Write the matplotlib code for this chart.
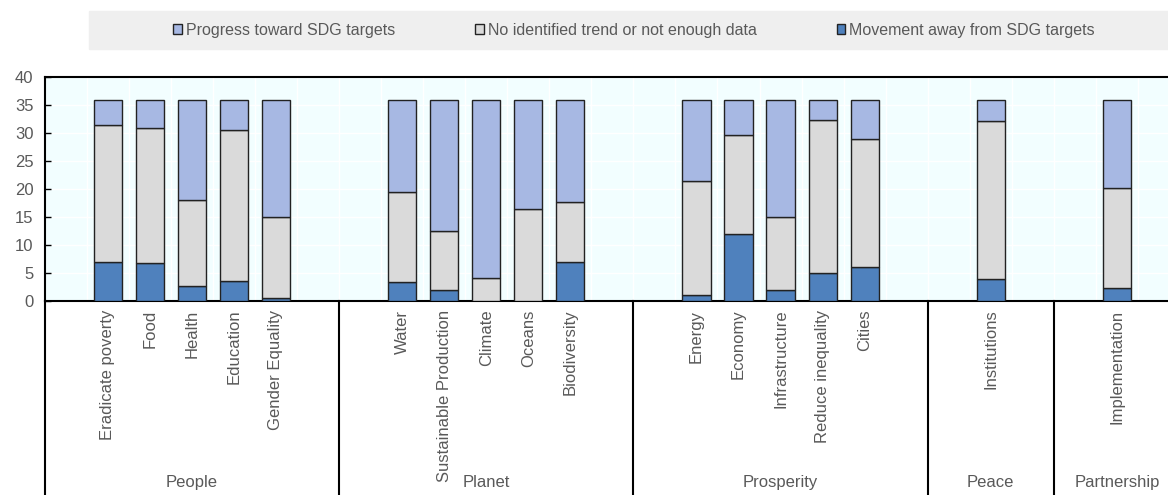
import numpy as np
import matplotlib
matplotlib.use('Agg')
from matplotlib import pyplot as plt
from matplotlib.patches import Rectangle
import matplotlib.transforms as mtransforms

plt.rcParams['font.family'] = ['Liberation Sans Narrow', 'Liberation Sans', 'DejaVu Sans']

groups = ['People', 'Planet', 'Prosperity', 'Peace', 'Partnership']
group_items = [
    ['Eradicate poverty', 'Food', 'Health', 'Education', 'Gender Equality'],
    ['Water', 'Sustainable Production', 'Climate', 'Oceans', 'Biodiversity'],
    ['Energy', 'Economy', 'Infrastructure', 'Reduce inequality', 'Cities'],
    ['Institutions'],
    ['Implementation'],
]

movement = [7.0, 6.7, 2.6, 3.5, 0.4,
            3.4, 1.9, 0.0, 0.0, 6.9,
            1.1, 12.0, 1.9, 5.0, 6.0,
            3.9,
            2.3]
no_trend = [24.5, 24.3, 15.5, 27.0, 14.5,
            16.1, 10.5, 4.0, 16.4, 10.8,
            20.3, 17.7, 13.0, 27.3, 22.9,
            28.2,
            17.8]
progress = [4.5, 5.0, 17.9, 5.5, 21.1,
            16.5, 23.6, 32.0, 19.6, 18.3,
            14.6, 6.3, 21.1, 3.7, 7.1,
            3.9,
            15.9]

c_prog = '#A7B8E3'
c_none = '#DADADA'
c_move = '#4F81BD'
txt = '#595959'

# slot layout: each group gets an empty slot before and after its bars
pos = []
labels = []
bounds = [0]
mids = []
start = 0
for items in group_items:
    for j, name in enumerate(items):
        pos.append(start + 1 + j + 0.5)
        labels.append(name)
    n = len(items) + 2
    mids.append(start + n / 2)
    start += n
    bounds.append(start)
pos = np.array(pos)

fig = plt.figure(figsize=(11.68, 4.95), dpi=100)
ax = fig.add_axes([44.7 / 1168, 1 - 300.7 / 495, (1180 - 44.7) / 1168, 223.4 / 495])
ax.set_facecolor('#F2FEFF')

w = 0.67
mv = np.array(movement)
nt = np.array(no_trend)
pr = np.array(progress)
kw = dict(width=w, edgecolor='#222222', linewidth=1.0, zorder=3)
b_move = ax.bar(pos, mv, color=c_move, **kw)
b_none = ax.bar(pos, nt, bottom=mv, color=c_none, **kw)
b_prog = ax.bar(pos, pr, bottom=mv + nt, color=c_prog, **kw)

ax.set_xlim(0, start)
ax.set_ylim(0, 40)
ax.set_yticks(np.arange(0, 41, 5))
ax.set_xticks(np.arange(0, start + 1))
ax.set_xticklabels([])
ax.tick_params(axis='x', length=0)
ax.tick_params(axis='y', direction='in', length=4, width=1, colors='black',
               labelcolor=txt, labelsize=12, pad=8)
ax.grid(True, color='white', linewidth=1, zorder=0)
ax.set_axisbelow(True)
for s in ['top', 'left', 'bottom']:
    ax.spines[s].set_linewidth(1.5)
    ax.spines[s].set_color('black')
ax.spines['right'].set_visible(False)

# multi-level category axis
trans = mtransforms.blended_transform_factory(ax.transData, ax.transAxes)
for b in bounds[:-1]:
    ax.plot([b, b], [0, -0.9], transform=trans, color='black', lw=1.5, clip_on=False)
for p, name in zip(pos, labels):
    ax.text(p, -0.04, name, transform=trans, rotation=90, ha='center', va='top',
            fontsize=12, color=txt)
for m, g in zip(mids, groups):
    ax.text(m, -0.816, g, transform=trans, ha='center', va='center',
            fontsize=12, color=txt)

# legend band
fig.patches.append(Rectangle((89 / 1168, 1 - 49 / 495), 1.0, 38 / 495,
                             transform=fig.transFigure, color='#EFEFEF', zorder=0))
fig.legend([b_prog, b_none, b_move],
           ['Progress toward SDG targets', 'No identified trend or not enough data',
            'Movement away from SDG targets'],
           loc='center', bbox_to_anchor=(634 / 1168, 1 - 30 / 495), ncol=3,
           frameon=False, fontsize=11.5, labelcolor=txt, handlelength=0.55,
           handleheight=0.55, handletextpad=0.25, columnspacing=5.0)

fig.savefig('out.png', dpi=100)
